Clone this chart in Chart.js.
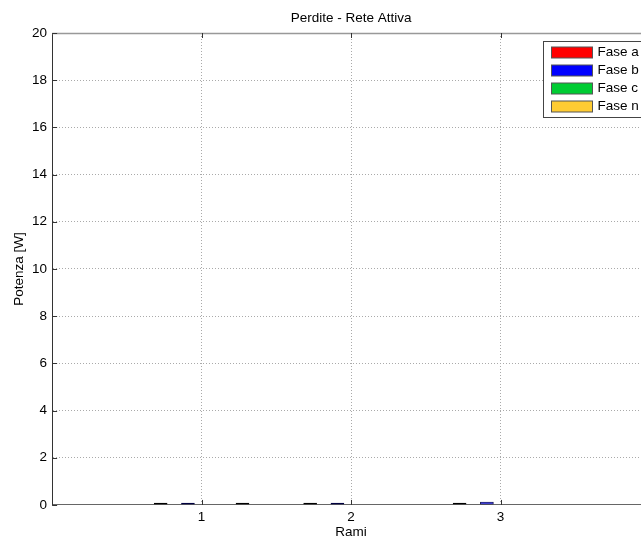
<!DOCTYPE html>
<html>
<head>
<meta charset="utf-8">
<script src="https://cdn.jsdelivr.net/npm/chart.js@4.4.0/dist/chart.umd.min.js"></script>
<style>
  html, body { margin: 0; padding: 0; background: #fff; overflow: hidden; }
  #wrap { width: 641px; height: 541px; overflow: hidden; }
  canvas { display: block; }
</style>
</head>
<body>
<div id="wrap"><canvas id="chart" width="700" height="541"></canvas></div>
<script>
// Values (all nearly zero)
const rami = [1, 2, 3];
const faseA = [0.09, 0.09, 0.09];
const faseB = [0.09, 0.09, 0.13];
const faseC = [0, 0, 0];
const faseN = [0.09, 0, 0];
const seriesLabels = ['Fase a', 'Fase b', 'Fase c', 'Fase n'];
const seriesColors = ['#ff0000', '#0000ff', '#00cc33', '#ffcc33'];
const yTicks = [0, 2, 4, 6, 8, 10, 12, 14, 16, 18, 20];

Chart.defaults.font.family = '"Liberation Sans", Arial, sans-serif';
Chart.defaults.font.size = 13.5;
Chart.defaults.color = '#000';

const datasets = [faseA, faseB, faseC, faseN].map((vals, k) => ({
    label: seriesLabels[k],
    backgroundColor: seriesColors[k],
    borderColor: k === 1 ? '#000040' : '#000',
    borderWidth: 1,
    borderSkipped: false,
    categoryPercentage: 0.73,
    barPercentage: 0.5,
    data: vals.map((v, i) => ({ x: rami[i], y: v }))
}));

// matlab-like frame: title over plot area, inner ticks, top border, legend box
const matlabFrame = {
    id: 'matlabFrame',
    afterLayout(chart) {
        const a = chart.chartArea;
        if (chart.titleBlock) {
            chart.titleBlock.left = a.left;
            chart.titleBlock.right = a.right;
        }
    },
    afterDraw(chart) {
        const ctx = chart.ctx;
        const a = chart.chartArea;
        const xs = chart.scales.x, ys = chart.scales.y;
        ctx.save();

        // top border
        ctx.strokeStyle = '#999';
        ctx.lineWidth = 1.5;
        ctx.beginPath();
        ctx.moveTo(a.left, a.top + 0.5);
        ctx.lineTo(a.right, a.top + 0.5);
        ctx.stroke();

        // inner tick marks
        ctx.strokeStyle = '#333';
        ctx.lineWidth = 1;
        ctx.beginPath();
        ys.ticks.forEach(t => {
            const py = Math.round(ys.getPixelForValue(t.value)) + 0.5;
            ctx.moveTo(a.left, py);
            ctx.lineTo(a.left + 5, py);
        });
        xs.ticks.forEach(t => {
            const px = Math.round(xs.getPixelForValue(t.value)) + 0.5;
            ctx.moveTo(px, a.bottom);
            ctx.lineTo(px, a.bottom - 5);
            ctx.moveTo(px, a.top);
            ctx.lineTo(px, a.top + 5);
        });
        ctx.stroke();

        // legend
        const lx = Math.round(a.right - 107) + 0.5;
        const ly = Math.round(a.top + 8) + 0.5;
        ctx.fillStyle = '#fff';
        ctx.fillRect(lx, ly, 110, 76);
        ctx.strokeStyle = '#444';
        ctx.strokeRect(lx, ly, 110, 76);
        ctx.font = '13.5px "Liberation Sans", Arial, sans-serif';
        ctx.textBaseline = 'middle';
        ctx.textAlign = 'left';
        chart.data.datasets.forEach((ds, i) => {
            const cy = ly + 11 + i * 18;
            ctx.fillStyle = ds.backgroundColor;
            ctx.fillRect(lx + 8, cy - 5.5, 41, 11);
            ctx.strokeStyle = '#555';
            ctx.strokeRect(lx + 8, cy - 5.5, 41, 11);
            ctx.fillStyle = '#000';
            ctx.fillText(ds.label, lx + 54, cy);
        });
        ctx.restore();
    }
};

new Chart(document.getElementById('chart'), {
    type: 'bar',
    data: { datasets },
    options: {
        responsive: false,
        animation: false,
        layout: { padding: { left: 0, right: 50, top: 0, bottom: 0 } },
        plugins: {
            legend: { display: false },
            tooltip: { enabled: false },
            title: {
                display: true,
                text: 'Perdite - Rete Attiva',
                font: { size: 13.5, weight: 'normal' },
                color: '#000',
                padding: { top: 10.4, bottom: 6.4 }
            }
        },
        scales: {
            x: {
                type: 'linear',
                offset: false,
                min: 0,
                max: 4,
                afterBuildTicks: s => { s.ticks = rami.map(v => ({ value: v })); },
                ticks: { padding: 5.25, color: '#000', font: { lineHeight: 1.0 } },
                grid: { color: '#aaa', drawTicks: false, offset: false },
                border: { color: '#666', dash: [1, 2] },
                title: {
                    display: true,
                    text: 'Rami',
                    font: { size: 13.5, lineHeight: 0.45 },
                    color: '#000',
                    padding: { top: 0, bottom: 6 }
                }
            },
            y: {
                min: 0,
                max: 20,
                afterBuildTicks: s => { s.ticks = yTicks.map(v => ({ value: v })); },
                ticks: { padding: 5, color: '#000' },
                grid: { color: '#aaa', drawTicks: false },
                border: { color: '#333', dash: [1, 2] },
                title: {
                    display: true,
                    text: 'Potenza [W]',
                    font: { size: 13.5 },
                    color: '#000',
                    padding: { top: 10.9, bottom: 0 }
                }
            }
        }
    },
    plugins: [matlabFrame]
});
</script>
</body>
</html>
